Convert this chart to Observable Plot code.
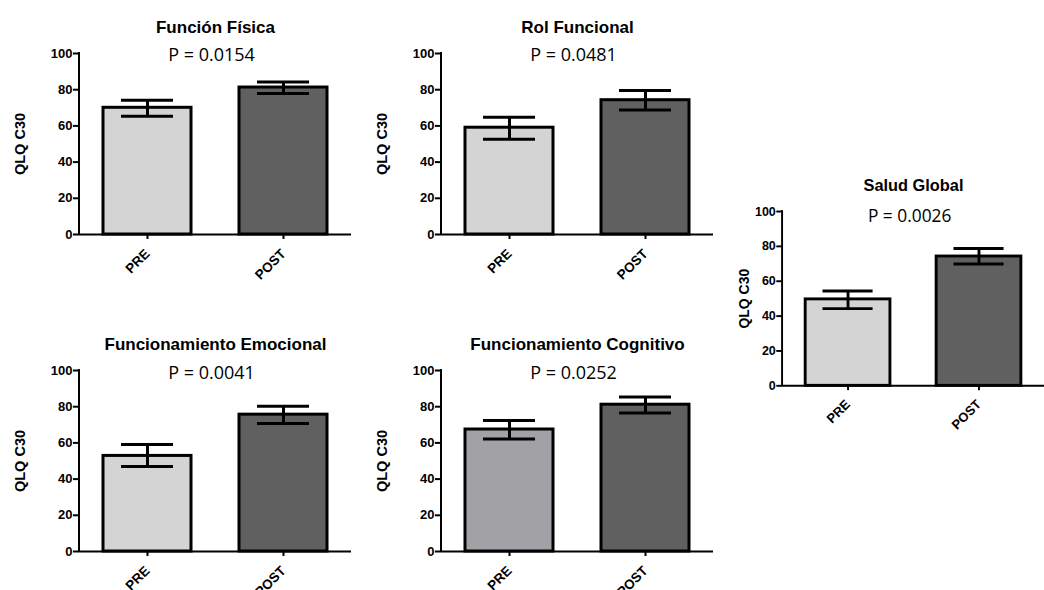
<!DOCTYPE html>
<html><head><meta charset="utf-8">
<script src="https://cdn.jsdelivr.net/npm/d3@7"></script>
<script src="https://cdn.jsdelivr.net/npm/@observablehq/plot@0.6"></script>
<style>
html,body{margin:0;padding:0;background:#fff;overflow:hidden}
#root{position:relative;width:1044px;height:590px;overflow:hidden;background:#fff}
.panel{position:absolute}
</style></head><body><div id="root"></div>
<script>
// ---- data ----
const groups = ["PRE", "POST"];
const titles = ["Función Física", "Rol Funcional", "Funcionamiento Emocional", "Funcionamiento Cognitivo", "Salud Global"];
const pValues = ["P = 0.0154", "P = 0.0481", "P = 0.0041", "P = 0.0252", "P = 0.0026"];
const means = [[70.0, 81.2], [59.0, 74.2], [52.8, 75.6], [67.4, 81.1], [49.6, 74.2]];
const upper = [[74.2, 84.3], [64.8, 79.5], [59.1, 80.2], [72.4, 85.4], [54.4, 78.8]];
const lower = [[65.3, 77.9], [52.6, 68.8], [46.9, 70.7], [62.2, 76.5], [44.3, 69.9]];
const preFill = ["#d4d4d4", "#d4d4d4", "#d4d4d4", "#a2a2a6", "#d4d4d4"];
const postFill = "#606060";
const yTicks = [0, 20, 40, 60, 80, 100];
const yLabel = "QLQ C30";

// ---- layout (positions only) ----
const layout = [
  {left: 0,   top: 0,   ml: 79, pDy: 7,  labOff: 59.5},
  {left: 350, top: 0,   ml: 91, pDy: 7,  labOff: 59.5},
  {left: 0,   top: 317, ml: 79, pDy: 8,  labOff: 59.5},
  {left: 350, top: 317, ml: 91, pDy: 8,  labOff: 59.5},
  {left: 706, top: 160, ml: 79, pDy: 11, labOff: 40}
];
const frameW = 272, frameH = 181, mt = 53, mb = 70;

const root = document.getElementById("root");

titles.forEach((title, i) => {
  const L = layout[i];
  const rows = groups.map((g, j) => ({
    group: g, mean: means[i][j], upper: upper[i][j], lower: lower[i][j],
    fill: j === 0 ? preFill[i] : postFill
  }));
  const yAxisLine = (index, scales, values, dims) => {
    const ln = d3.create("svg:line")
      .attr("x1", dims.marginLeft).attr("x2", dims.marginLeft)
      .attr("y1", scales.y(0) + 1).attr("y2", scales.y(100) - 1)
      .attr("stroke", "black").attr("stroke-width", 2);
    return ln.node();
  };
  const chart = Plot.plot({
    width: L.ml + frameW,
    height: mt + frameH + mb,
    marginLeft: L.ml, marginRight: 0, marginTop: mt, marginBottom: mb,
    style: {fontFamily: "'Liberation Sans', Arial, sans-serif", fontSize: "13px", fontWeight: "bold", color: "black", background: "transparent", overflow: "visible"},
    x: {domain: groups, paddingInner: 0.353, paddingOuter: 0.176},
    y: {domain: [0, 100]},
    color: {type: "identity"},
    marks: [
      Plot.axisY({ticks: yTicks, tickSize: 6, tickPadding: 1, strokeWidth: 2, label: null, fontWeight: "bold", fontSize: 13}),
      Plot.axisX({tickSize: 5, tickPadding: 12, tickRotate: -45, strokeWidth: 2, label: null, fontWeight: "bold", fontSize: 13.5}),
      Plot.barY(rows, {x: "group", y: "mean", fill: "fill", stroke: "black", strokeWidth: 3}),
      Plot.ruleY([0], {stroke: "black", strokeWidth: 2}),
      yAxisLine,
      Plot.ruleX(rows, {x: "group", y1: "lower", y2: "upper", stroke: "black", strokeWidth: 3}),
      Plot.tickY(rows, {x: "group", y: "upper", insetLeft: 18, insetRight: 18, stroke: "black", strokeWidth: 3}),
      Plot.tickY(rows, {x: "group", y: "lower", insetLeft: 18, insetRight: 18, stroke: "black", strokeWidth: 3}),
      Plot.text([title], {frameAnchor: "top", dy: -21, lineAnchor: "bottom", fontSize: 17, fontWeight: "bold", fill: "black"}),
      Plot.text([pValues[i]], {frameAnchor: "top", dx: -4, dy: L.pDy, lineAnchor: "bottom", fontSize: 18, fontWeight: "normal", fontFamily: "'Open Sans', sans-serif", fill: "black"}),
      Plot.text([yLabel], {frameAnchor: "left", dx: -L.labOff, rotate: -90, lineAnchor: "middle", textAnchor: "middle", fontSize: 14.5, fontWeight: "bold", fill: "black"})
    ]
  });
  const div = document.createElement("div");
  div.className = "panel";
  div.style.left = L.left + "px";
  div.style.top = L.top + "px";
  div.appendChild(chart);
  root.appendChild(div);
});
</script>
</body></html>
